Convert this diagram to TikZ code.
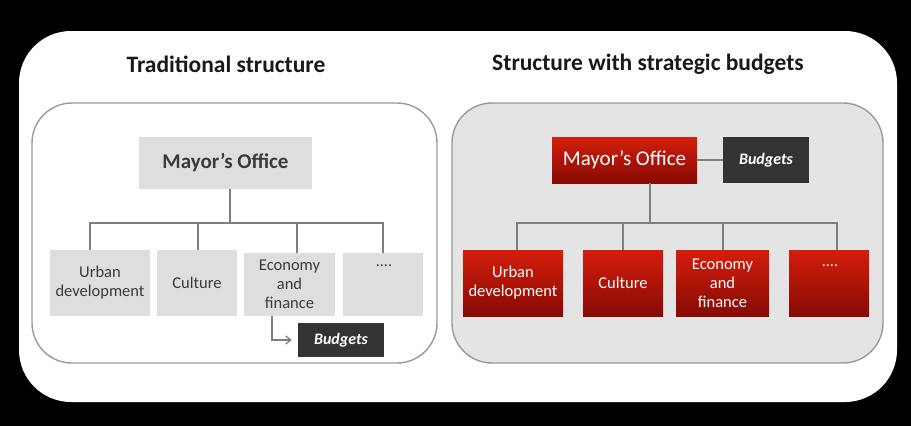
\documentclass[tikz,border=0pt]{standalone}
\usepackage{fontspec}
\setmainfont{Carlito}
\usetikzlibrary{arrows.meta}
\definecolor{boxgray}{HTML}{DEDEDE}
\definecolor{panelgray}{HTML}{E4E4E4}
\definecolor{bordergray}{HTML}{9A9A9A}
\definecolor{linegray}{HTML}{7F7F7F}
\definecolor{txtgray}{HTML}{3A3A3A}
\definecolor{darkbox}{HTML}{333333}
\definecolor{redtop}{HTML}{D41E0C}
\definecolor{redbot}{HTML}{860A04}
\tikzset{
  lbox/.style={fill=boxgray, inner sep=0pt, align=center, text=txtgray,
    font=\fontsize{16.5}{19}\selectfont},
  rbox/.style={top color=redtop, bottom color=redbot, inner sep=0pt, align=center,
    text=white, font=\fontsize{16.5}{19}\selectfont},
  budgbox/.style={fill=darkbox, inner sep=0pt, text=white,
    font=\fontsize{16}{19}\selectfont\bfseries\itshape},
  conn/.style={draw=linegray, line width=1.3pt},
  panel/.style={draw=bordergray, line width=1.4pt, rounded corners=40pt},
  titletext/.style={font=\fontsize{23.5}{27}\selectfont\bfseries, text=black!90},
  dotstext/.style={font=\fontsize{16}{19}\selectfont}
}
\begin{document}
\begin{tikzpicture}[x=1pt,y=-1pt]
\useasboundingbox (0,0) rectangle (911,426);
\fill[black] (0,0) rectangle (911,426);
\fill[white, rounded corners=52pt] (19,31) rectangle (897,402);
% panels
\path[panel, fill=white] (32,103) rectangle (437,363);
\path[panel, fill=panelgray] (452,103) rectangle (883,363);
% titles
\node[titletext] (Ltitle) at (226,64) {Traditional structure};
\node[titletext] (Rtitle) at (648,64) {Structure with strategic budgets};
% left chart
\node[lbox, minimum width=173pt, minimum height=52pt, font=\fontsize{21}{25}\selectfont\bfseries] (Lmayor) at (225.5,163) {Mayor's Office};
\node[lbox, minimum width=100pt, minimum height=66pt] (Lurban) at (100,283) {Urban\\development};
\node[lbox, minimum width=80pt, minimum height=66pt] (Lculture) at (197,283) {Culture};
\node[lbox, minimum width=91pt, minimum height=63pt] (Lecon) at (289.5,284.5) {Economy\\and\\finance};
\node[lbox, minimum width=80pt, minimum height=63pt] (Ldots) at (383,284.5) {};
\node[dotstext, text=txtgray] (Ldotst) at (384,266) {....};
\node[budgbox, minimum width=86pt, minimum height=34pt] (Lbudg) at (341,340) {Budgets};
\coordinate (Lj) at (230,223);
\draw[conn] (Lmayor.south -| Lj) -- (Lj);
\draw[conn] ([xshift=-10pt]Lurban.north) |- (Ldots.north |- Lj) -- (Ldots.north);
\draw[conn] ([xshift=1pt]Lculture.north) -- ([xshift=1pt]Lculture.north |- Lj);
\draw[conn] ([xshift=7.5pt]Lecon.north) -- ([xshift=7.5pt]Lecon.north |- Lj);
\draw[conn, -{Straight Barb[length=5pt,width=8pt]}] ([xshift=-17.5pt]Lecon.south) |- ([xshift=-6pt]Lbudg.west);
% right chart
\node[rbox, minimum width=145pt, minimum height=46pt, font=\fontsize{21}{25}\selectfont] (Rmayor) at (624.5,160) {Mayor's Office};
\node[budgbox, minimum width=86pt, minimum height=46pt] (Rbudg) at (766,160) {Budgets};
\node[rbox, minimum width=100pt, minimum height=66pt] (Rurban) at (513,283) {Urban\\development};
\node[rbox, minimum width=80pt, minimum height=66pt] (Rculture) at (623,283) {Culture};
\node[rbox, minimum width=93pt, minimum height=66pt] (Recon) at (722.5,283) {Economy\\and\\finance};
\node[rbox, minimum width=80pt, minimum height=66pt] (Rdots) at (829,283) {};
\node[dotstext, text=white] (Rdotst) at (830,266) {....};
\draw[conn] (Rmayor.east) -- (Rbudg.west);
\coordinate (Rj) at (650,223);
\draw[conn] (Rmayor.south -| Rj) -- (Rj);
\draw[conn] ([xshift=4pt]Rurban.north) |- ([xshift=8pt]Rdots.north |- Rj) -- ([xshift=8pt]Rdots.north);
\draw[conn] (Rculture.north) -- (Rculture.north |- Rj);
\draw[conn] ([xshift=0.5pt]Recon.north) -- ([xshift=0.5pt]Recon.north |- Rj);
\end{tikzpicture}
\end{document}
